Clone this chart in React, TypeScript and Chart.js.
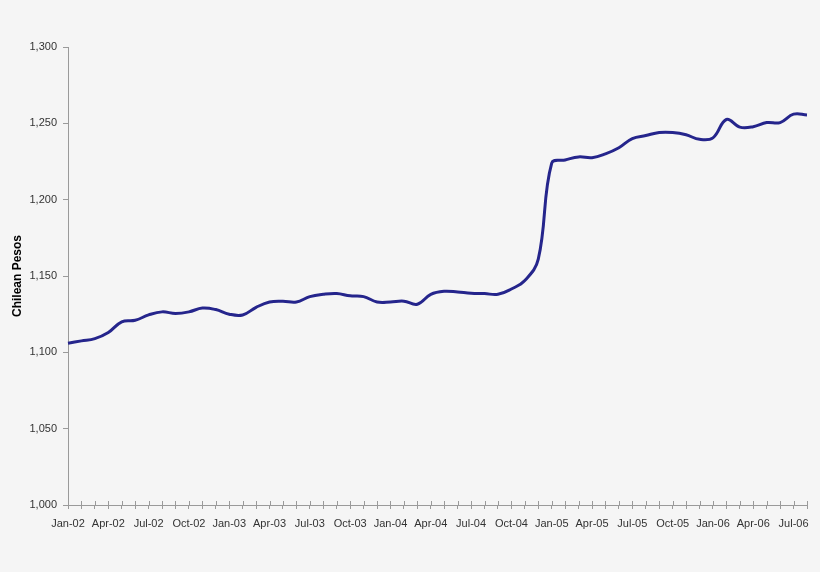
import { useEffect, useRef } from "react";
import { Chart, registerables } from "chart.js";

Chart.register(...registerables);

const years = ["02", "03", "04", "05", "06"];
const monthNames = ["Jan", "Feb", "Mar", "Apr", "May", "Jun", "Jul", "Aug", "Sep", "Oct", "Nov", "Dec"];

// Jan-02 .. Aug-06, monthly
const months: string[] = [];
years.forEach((y) => monthNames.forEach((m) => months.push(`${m}-${y}`)));
const categories = months.slice(0, 56);

const pesos = [
  1106, 1107.5, 1109, 1113, 1120, 1121, 1124.5, 1126.5, 1125.5, 1126.5, 1129, 1128,
  1125, 1124.5, 1129.5, 1133, 1133.5, 1133, 1136.5, 1138, 1138.5, 1137, 1136.5, 1133,
  1133, 1133.5, 1131.5, 1138, 1140, 1139.5, 1138.7, 1138.5, 1138, 1141.5, 1147, 1161,
  1224, 1226, 1228, 1227.5, 1230, 1234, 1240, 1242, 1244, 1244, 1242.5, 1239.5,
  1240.5, 1252.5, 1247.5, 1247.8, 1250.5, 1250.5, 1256, 1255.5,
];

const yTicks = [1000, 1050, 1100, 1150, 1200, 1250, 1300];

const FONT = "'Liberation Sans', Arial, sans-serif";

// small tick marks that cross the x axis (Excel style)
const crossTicks = {
  id: "crossTicks",
  afterDraw(chart: Chart) {
    const { ctx } = chart;
    const x = chart.scales.x;
    const y0 = chart.chartArea.bottom;
    ctx.save();
    ctx.strokeStyle = "#9a9a9a";
    ctx.lineWidth = 1;
    ctx.beginPath();
    categories.forEach((_, i) => {
      const px = Math.round(x.getPixelForValue(i)) + 0.5;
      ctx.moveTo(px, y0 - 4);
      ctx.lineTo(px, y0);
    });
    ctx.stroke();
    ctx.restore();
  },
};

export default function App() {
  const canvasRef = useRef<HTMLCanvasElement>(null);

  useEffect(() => {
    document.body.style.margin = "0";
    if (!canvasRef.current) return;

    const chart = new Chart(canvasRef.current, {
      type: "line",
      data: {
        labels: categories,
        datasets: [
          {
            data: pesos,
            borderColor: "#25258c",
            borderWidth: 3,
            pointRadius: 0,
            tension: 0.4,
            fill: false,
          },
        ],
      },
      options: {
        animation: false,
        responsive: false,
        devicePixelRatio: 1,
        layout: { padding: { top: 47, right: 13, left: 0, bottom: 0 } },
        plugins: {
          legend: { display: false },
          tooltip: { enabled: false },
        },
        scales: {
          x: {
            type: "category",
            offset: false,
            border: { color: "#9a9a9a" },
            grid: {
              drawOnChartArea: false,
              drawTicks: true,
              tickLength: 4,
              color: "#9a9a9a",
            },
            ticks: {
              autoSkip: false,
              maxRotation: 0,
              minRotation: 0,
              padding: 8,
              color: "#333",
              font: { family: FONT, size: 11 },
              callback: (_v, i) => (i % 3 === 0 ? categories[i] : ""),
            },
            afterFit: (s: any) => {
              s.height = 67;
            },
          },
          y: {
            min: 1000,
            max: 1300,
            border: { color: "#9a9a9a" },
            grid: {
              drawOnChartArea: false,
              tickLength: 5,
              color: "#9a9a9a",
            },
            afterBuildTicks: (s: any) => {
              s.ticks = yTicks.map((v) => ({ value: v }));
            },
            ticks: {
              padding: 6,
              color: "#333",
              font: { family: FONT, size: 11 },
              callback: (v) => Number(v).toLocaleString("en-US"),
            },
            title: {
              display: true,
              text: "Chilean Pesos",
              color: "#000",
              font: { family: FONT, size: 12, weight: "bold" },
              padding: { top: 10, bottom: 0 },
            },
            afterFit: (s: any) => {
              s.width = 68;
            },
          },
        },
      },
      plugins: [crossTicks],
    });

    return () => chart.destroy();
  }, []);

  return (
    <div style={{ width: 820, height: 572, background: "#f5f5f5" }}>
      <canvas ref={canvasRef} width={820} height={572} />
    </div>
  );
}
